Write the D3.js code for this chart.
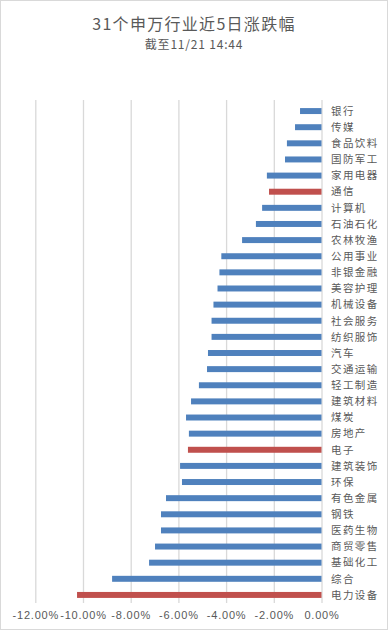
<!DOCTYPE html>
<html>
<head>
<meta charset="utf-8">
<script src="https://cdn.jsdelivr.net/npm/d3@7"></script>
<style>
  body { margin: 0; background: #fff; }
  svg { display: block; }
  .tick text { fill: #595959; }
</style>
</head>
<body>
<div id="chart"></div>
<script>
var svgWidth = 388;
var svgHeight = 630;

// industries, top to bottom
var industries = ["银行", "传媒", "食品饮料", "国防军工", "家用电器", "通信", "计算机", "石油石化",
  "农林牧渔", "公用事业", "非银金融", "美容护理", "机械设备", "社会服务", "纺织服饰", "汽车",
  "交通运输", "轻工制造", "建筑材料", "煤炭", "房地产", "电子", "建筑装饰", "环保",
  "有色金属", "钢铁", "医药生物", "商贸零售", "基础化工", "综合", "电力设备"];

// 5-day change, %
var changes = [-0.90, -1.11, -1.45, -1.53, -2.29, -2.20, -2.49, -2.75,
  -3.33, -4.20, -4.28, -4.36, -4.53, -4.61, -4.61, -4.76,
  -4.80, -5.14, -5.47, -5.68, -5.56, -5.60, -5.93, -5.85,
  -6.52, -6.73, -6.73, -6.98, -7.23, -8.78, -10.25];

// highlighted industries
var highlighted = ["通信", "电子", "电力设备"];

var xTicks = [-12, -10, -8, -6, -4, -2, 0];

var rows = industries.map(function (name, i) {
  return { name: name, value: changes[i] };
});

var svg = d3.select("#chart")
  .append("svg")
  .attr("width", svgWidth)
  .attr("height", svgHeight);

// outer border
svg.append("rect")
  .attr("x", 0.5)
  .attr("y", 0.5)
  .attr("width", svgWidth - 1)
  .attr("height", svgHeight - 1)
  .attr("fill", "#fff")
  .attr("stroke", "#d9d9d9");

var xScale = d3.scaleLinear()
  .domain([-12, 0])
  .range([35.3, 321.5]);

var yScale = d3.scaleBand()
  .domain(industries)
  .range([103, 603])
  .paddingInner(0.63)
  .paddingOuter(0.315);

// gridlines
var grid = svg.append("g")
  .attr("transform", "translate(0, 603)")
  .call(d3.axisBottom(xScale).tickValues(xTicks).tickSize(-503).tickFormat(""));
grid.select(".domain").remove();
grid.selectAll(".tick line").attr("stroke", "#d9d9d9").attr("stroke-width", 1.3);

// x axis labels
var xAxis = svg.append("g")
  .attr("transform", "translate(0, 608)")
  .call(d3.axisBottom(xScale).tickValues(xTicks).tickSize(0)
    .tickFormat(function (d) { return d.toFixed(2) + "%"; }));
xAxis.select(".domain").remove();
xAxis.selectAll("text")
  .style("font-family", "'Liberation Sans', Arial, sans-serif")
  .style("font-size", "11px")
  .style("letter-spacing", "0.8px");

// bars
svg.selectAll(".bar")
  .data(rows)
  .enter()
  .append("rect")
  .attr("class", "bar")
  .attr("x", d => xScale(d.value))
  .attr("y", d => yScale(d.name))
  .attr("width", d => xScale(0) - xScale(d.value))
  .attr("height", yScale.bandwidth())
  .attr("fill", d => highlighted.indexOf(d.name) >= 0 ? "#c0504d" : "#4f81bd");

// category labels
svg.selectAll(".label")
  .data(rows)
  .enter()
  .append("text")
  .attr("class", "label")
  .attr("x", 331)
  .attr("y", d => yScale(d.name) + yScale.bandwidth() / 2)
  .attr("dy", "0.36em")
  .style("font-family", "'Noto Sans CJK SC', sans-serif")
  .style("font-size", "10.5px")
  .style("letter-spacing", "1.4px")
  .style("fill", "#595959")
  .text(d => d.name);

// title
svg.append("text")
  .attr("x", svgWidth / 2)
  .attr("y", 30)
  .attr("text-anchor", "middle")
  .style("font-family", "'Noto Sans CJK SC', sans-serif")
  .style("font-size", "16px")
  .style("letter-spacing", "1.3px")
  .style("fill", "#595959")
  .text("31个申万行业近5日涨跌幅");

svg.append("text")
  .attr("x", svgWidth / 2)
  .attr("y", 49)
  .attr("text-anchor", "middle")
  .style("font-family", "'Noto Sans CJK SC', sans-serif")
  .style("font-size", "12px")
  .style("letter-spacing", "0.8px")
  .style("fill", "#595959")
  .text("截至11/21 14:44");
</script>
</body>
</html>
